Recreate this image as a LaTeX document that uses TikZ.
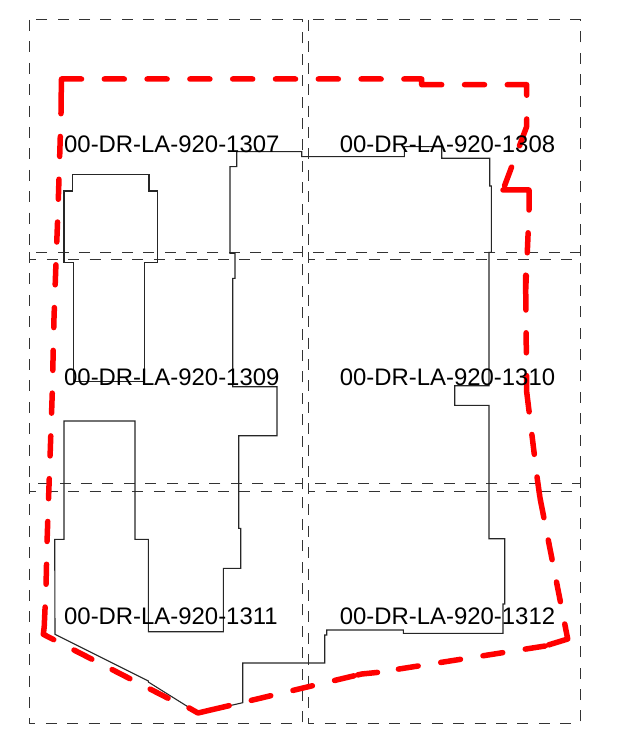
\documentclass[tikz,border=0pt]{standalone}
\usepackage{fontspec}
\setmainfont{Liberation Sans}
\tikzset{
    sheet/.style={draw=black!80, line width=1pt, dash pattern=on 11pt off 10.4pt},
    outline/.style={draw=black!85, line width=1.1pt, line join=miter},
    limit/.style={draw=red, line width=5.5pt, line cap=round, line join=round,
        dash pattern=on 20pt off 22.8pt},
    sheetlabel/.style={anchor=base west, inner sep=0pt, text=black,
        font=\fontsize{23.9pt}{26pt}\selectfont}
}
\begin{document}
\begin{tikzpicture}[x=1pt, y=-1pt]
\useasboundingbox (0,0) rectangle (637,743);
% sheet frames
\draw[sheet] (29,20) rectangle (302,259);
\draw[sheet] (308,20) rectangle (580,259);
\draw[sheet] (29,252) rectangle (302,491);
\draw[sheet] (308,252) rectangle (580,491);
\draw[sheet] (29,483) rectangle (302,723);
\draw[sheet] (308,483) rectangle (580,723);
% building
\draw[outline] (64,191) -- (64,262.7) -- (73.3,262.7) -- (73.3,381.7)
    -- (144.3,381.7) -- (144.3,262.7) -- (157.3,262.7) -- (157.3,191)
    -- (149,191) -- (149,174.3) -- (72.7,174.3) -- (72.7,191) -- cycle;
\draw[outline] (236.7,151.7) -- (301.7,151.7) -- (301.7,156.7) -- (404.3,156.7)
    -- (404.3,146.7) -- (441.7,146.7) -- (441.7,158.3) -- (489.7,158.3)
    -- (489.7,186) -- (491.3,186) -- (491.3,252.3) -- (489,252.3)
    -- (489,385.7) -- (454.7,385.7) -- (454.7,405.3) -- (489,405.3)
    -- (489,538.7) -- (504.7,538.7) -- (504.7,604) -- (503,604)
    -- (503,633.3) -- (403.3,633.3) -- (403.3,630) -- (326.7,630)
    -- (326.7,635) -- (324.7,635) -- (324.7,663) -- (242.7,663)
    -- (242.7,702.7) -- (198,713) -- (186.7,706) -- (148.3,682)
    -- (148.3,681) -- (55,634.3) -- (54.7,539.3) -- (64,539.3)
    -- (64,421) -- (135,421) -- (135,539.3) -- (148.3,539.3)
    -- (148.3,631.7) -- (223.3,631.7) -- (223.3,568.3) -- (240.7,568.3)
    -- (240.7,528.3) -- (238.7,528.3) -- (238.7,435.7) -- (277,435.7)
    -- (277,386.7) -- (232.7,386.7) -- (232.7,278.3) -- (235,278.3)
    -- (235,253.3) -- (230,253.3) -- (230,166.7) -- (236.7,166.7) -- cycle;
% boundary, the dashes start again at each vertex
\draw[limit] (61.5,79) -- (421.7,79)
    (421.7,79) -- (421.7,84.7)
    (421.7,84.7) -- (526.7,84.7)
    (526.7,84.7) -- (526.7,95.2)
    (526.7,119) -- (526.5,127)
    (526.5,127) -- (503,190)
    (503,190) -- (516,190)
    (516,190) -- (529,190)
    (529,190) -- (529,212) -- (525.7,290)
    (525.7,275.2) -- (525.7,290)
    (525.7,290) -- (526.7,392)
    (526.7,392) -- (537.3,479) -- (540,498)
    (540,498) -- (567.7,639)
    (567.7,639) -- (545,646)
    (545,646) -- (377.5,672.4)
    (377.5,672.4) -- (361.7,674) -- (354,675.8)
    (354,675.8) -- (226,706.4)
    (226,706.4) -- (208,710.6)
    (208,710.6) -- (198,713)
    (198,713) -- (189,707.9)
    (168,698.2) -- (43.3,634.3)
    (43.3,634.3) -- (44.2,627)
    (44.2,627) -- (46,587) -- (47,543) -- (48.5,500) -- (50,458) -- (52.3,392)
        -- (53.3,347) -- (54,318) -- (56,262) -- (58,210) -- (60,146) -- (61,113)
    (61,113) -- (61.2,95)
    (61.2,95) -- (61.5,79);
% sheet numbers
\node[sheetlabel] (sheetA) at (64,152.7) {00-DR-LA-920-1307};
\node[sheetlabel] (sheetB) at (339.7,152.7) {00-DR-LA-920-1308};
\node[sheetlabel] (sheetC) at (64,385.7) {00-DR-LA-920-1309};
\node[sheetlabel] (sheetD) at (339.7,385.7) {00-DR-LA-920-1310};
\node[sheetlabel] (sheetE) at (64,624.5) {00-DR-LA-920-1311};
\node[sheetlabel] (sheetF) at (339.7,624.5) {00-DR-LA-920-1312};
\end{tikzpicture}
\end{document}
